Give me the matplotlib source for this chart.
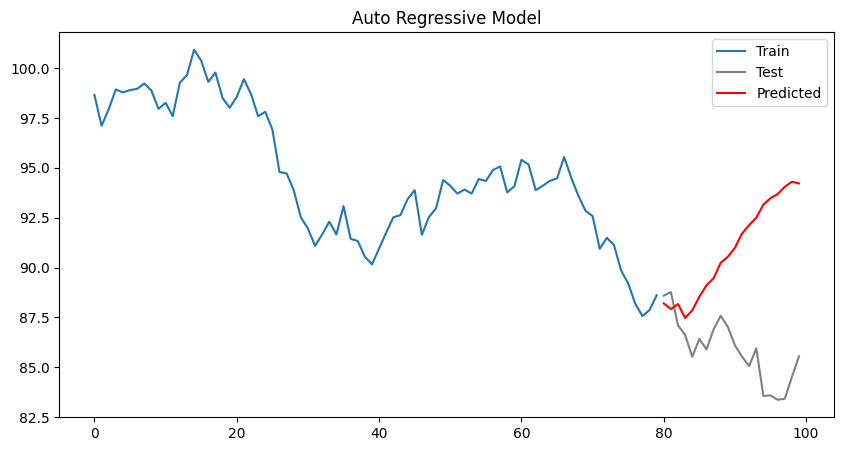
import matplotlib
matplotlib.use("Agg")
import matplotlib.pyplot as plt
import numpy as np

train = [98.65, 97.11, 97.94, 98.93, 98.78, 98.9, 98.96, 99.23, 98.88, 97.96,
         98.26, 97.59, 99.27, 99.65, 100.92, 100.37, 99.31, 99.78, 98.5, 98.01,
         98.56, 99.45, 98.7, 97.59, 97.81, 96.93, 94.79, 94.72, 93.88, 92.52,
         91.95, 91.09, 91.66, 92.3, 91.66, 93.08, 91.44, 91.33, 90.54, 90.16,
         90.96, 91.76, 92.52, 92.63, 93.43, 93.88, 91.64, 92.53, 92.97, 94.39,
         94.1, 93.71, 93.91, 93.71, 94.44, 94.34, 94.89, 95.07, 93.77, 94.07,
         95.4, 95.17, 93.88, 94.1, 94.35, 94.47, 95.54, 94.5, 93.6, 92.85,
         92.58, 90.94, 91.49, 91.13, 89.86, 89.2, 88.18, 87.57, 87.87, 88.61]
test = [88.59, 88.77, 87.1, 86.62, 85.53, 86.42, 85.9, 86.9, 87.58, 87.03,
        86.1, 85.53, 85.06, 85.95, 83.56, 83.59, 83.37, 83.42, 84.51, 85.55]
predicted = [88.2, 87.92, 88.17, 87.47, 87.85, 88.54, 89.11, 89.46, 90.24, 90.54,
             90.99, 91.71, 92.13, 92.5, 93.16, 93.48, 93.68, 94.05, 94.3, 94.22]

x_train = np.arange(len(train))
x_test = np.arange(len(train), len(train) + len(test))

fig, ax = plt.subplots(figsize=(10, 5), dpi=100)
ax.plot(x_train, train, label="Train")
ax.plot(x_test, test, color="gray", label="Test")
ax.plot(x_test, predicted, color="red", label="Predicted")
ax.set_title("Auto Regressive Model")
ax.legend(loc="upper right")
fig.savefig("out.png", dpi=100, bbox_inches="tight")
